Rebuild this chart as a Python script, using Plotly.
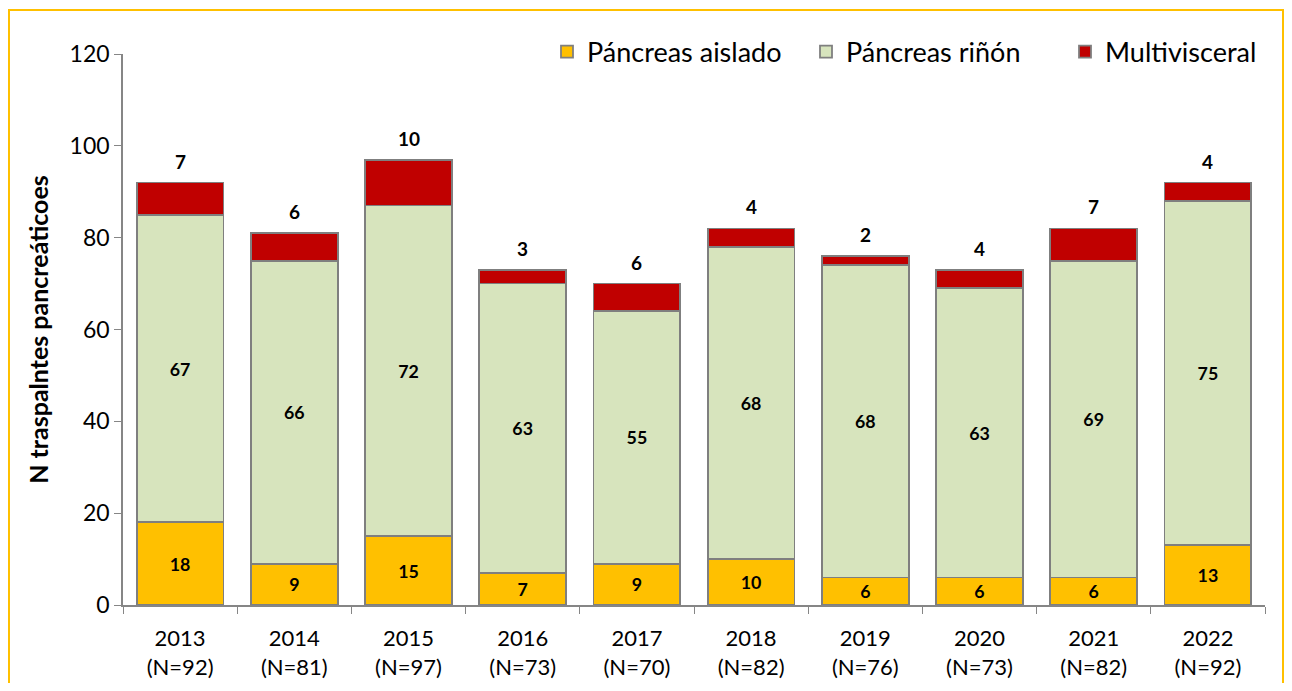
import plotly.graph_objects as go

years = ["2013", "2014", "2015", "2016", "2017", "2018", "2019", "2020", "2021", "2022"]
totals = [92, 81, 97, 73, 70, 82, 76, 73, 82, 92]
aislado = [18, 9, 15, 7, 9, 10, 6, 6, 6, 13]
rinon = [67, 66, 72, 63, 55, 68, 68, 63, 69, 75]
multi = [7, 6, 10, 3, 6, 4, 2, 4, 7, 4]

cats = [f"{y}<br>(N={n})" for y, n in zip(years, totals)]

FONT = "Lato"
outline = dict(color="#7F7F7F", width=1.8)
lblfont = dict(family=FONT, size=19, color="black", weight="bold")

fig = go.Figure()
fig.add_trace(go.Bar(
    name="Páncreas aislado", x=cats, y=aislado,
    marker=dict(color="#FFC000", line=outline),
    text=aislado, textposition="inside", insidetextanchor="middle",
    textfont=lblfont, textangle=0,
))
fig.add_trace(go.Bar(
    name="Páncreas riñón", x=cats, y=rinon,
    marker=dict(color="#D7E4BD", line=outline),
    text=rinon, textposition="inside", insidetextanchor="middle",
    textfont=lblfont, textangle=0,
))
fig.add_trace(go.Bar(
    name="Multivisceral", x=cats, y=multi,
    marker=dict(color="#C00000", line=outline),
))

# labels above the stacks (Multivisceral values)
stack_top = [a + r + m for a, r, m in zip(aislado, rinon, multi)]
annotations = [
    dict(x=c, y=t, text=f"<b>{m}</b>", showarrow=False, yanchor="bottom",
         yshift=8, font=dict(family=FONT, size=19, color="black"))
    for c, t, m in zip(cats, stack_top, multi)
]

# figure sits at an 8px page offset; keep it inside the window
W, H = 1276, 675
L, T = 115, 46
R = W - 1257
B = H - 597
pw, ph = W - L - R, H - T - B

fig.update_layout(
    width=W, height=H,
    barmode="stack", bargap=0.24,
    margin=dict(l=L, r=R, t=T, b=B, autoexpand=False),
    plot_bgcolor="white", paper_bgcolor="white",
    font=dict(family=FONT, color="black"),
    uniformtext=dict(minsize=8, mode="show"),
    showlegend=True,
    legend=dict(
        orientation="h", x=(539 - L) / pw, xanchor="left",
        y=(ph - (44 - T)) / ph, yanchor="middle",
        font=dict(family=FONT, size=27), traceorder="normal",
        bgcolor="rgba(0,0,0,0)", entrywidth=214, entrywidthmode="pixels",
    ),
    xaxis=dict(
        showline=True, linecolor="#868686", linewidth=1.5,
        ticks="outside", tickson="boundaries", ticklen=7, tickcolor="#868686",
        tickfont=dict(family=FONT, size=22), ticklabelstandoff=13,
    ),
    yaxis=dict(
        range=[0, 120], dtick=20, showgrid=False, zeroline=False,
        showline=True, linecolor="#868686", linewidth=1.5,
        ticks="outside", ticklen=7, tickcolor="#868686",
        tickfont=dict(family=FONT, size=23),
        title=dict(text="<b>N traspalntes pancreáticoes</b>", font=dict(family=FONT, size=25), standoff=14),
    ),
    annotations=annotations,
    shapes=[dict(
        type="rect", xref="paper", yref="paper",
        x0=(1 - L) / pw, x1=(W - 1 - L) / pw,
        y0=(ph - (720 - T)) / ph, y1=(ph - (2 - T)) / ph,
        line=dict(color="#FFC000", width=2), fillcolor="rgba(0,0,0,0)",
        layer="below",
    )],
)

fig.write_html("out.html")
